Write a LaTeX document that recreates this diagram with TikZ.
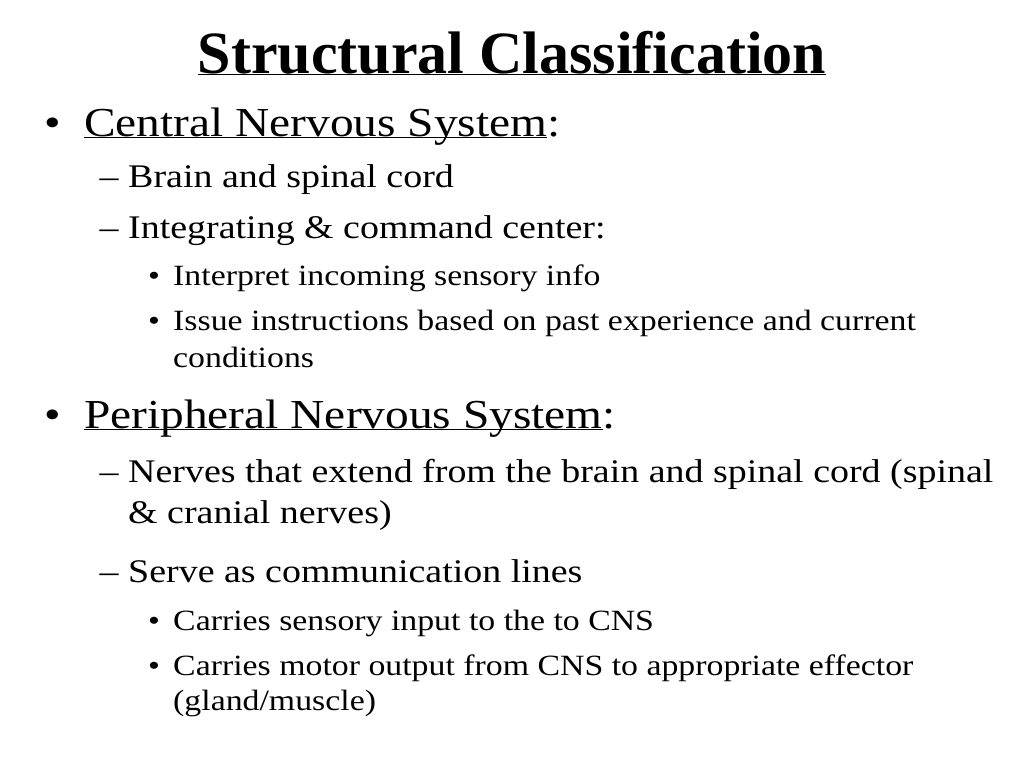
\documentclass[tikz,border=0pt]{standalone}
\usepackage{fontspec}
\setmainfont{Liberation Serif}[FakeStretch=1.15]
\newfontfamily\headfont{Liberation Serif}
\newcommand\underword[1]{\underline{\smash{#1}}}
\begin{document}
\begin{tikzpicture}[x=1pt, y=-1pt,
            every node/.style = {inner sep=0pt, anchor=base west},
            head/.style = {anchor=base, font=\headfont\fontsize{60}{60}\bfseries\selectfont},
            lone/.style = {font=\fontsize{41.2}{41}\selectfont},
            ltwo/.style = {font=\fontsize{33}{33}\selectfont},
            lthree/.style = {font=\fontsize{29.4}{29}\selectfont},
            dot/.style = {anchor=base}]
                \useasboundingbox[fill=white] (0,0) rectangle (1024,768);
                \node[head] (title) at (512,73) {\underword{Structural Classification}};

                % central nervous system
                \node[lone, dot] (b1) at (53,136) {•};
                \node[lone] (cns) at (84,136) {\underword{Central Nervous System}:};
                \node[ltwo, dot] (d1) at (109,187) {–};
                \node[ltwo] (brain) at (128,187) {Brain and spinal cord};
                \node[ltwo, dot] (d2) at (109,238) {–};
                \node[ltwo] (integ) at (128,238) {Integrating \& command center:};
                \node[lthree, dot] (s1) at (154,285) {•};
                \node[lthree] (interp) at (173,285) {Interpret incoming sensory info};
                \node[lthree, dot] (s2) at (154,330) {•};
                \node[lthree] (issue) at (173,330) {Issue instructions based on past experience and current};
                \node[lthree] (issue2) at (173,367) {conditions};

                % peripheral nervous system
                \node[lone, dot] (b2) at (53,428) {•};
                \node[lone] (pns) at (84,428) {\underword{Peripheral Nervous System}:};
                \node[ltwo, dot] (d3) at (109,482) {–};
                \node[ltwo] (nerves) at (128,482) {Nerves that extend from the brain and spinal cord (spinal};
                \node[ltwo] (nerves2) at (128,523) {\& cranial nerves)};
                \node[ltwo, dot] (d4) at (109,582) {–};
                \node[ltwo] (serve) at (128,582) {Serve as communication lines};
                \node[lthree, dot] (s3) at (154,630) {•};
                \node[lthree] (sens) at (173,630) {Carries sensory input to the to CNS};
                \node[lthree, dot] (s4) at (154,675) {•};
                \node[lthree] (motor) at (173,675) {Carries motor output from CNS to appropriate effector};
                \node[lthree] (motor2) at (173,710) {(gland/muscle)};
        \end{tikzpicture}
\end{document}
